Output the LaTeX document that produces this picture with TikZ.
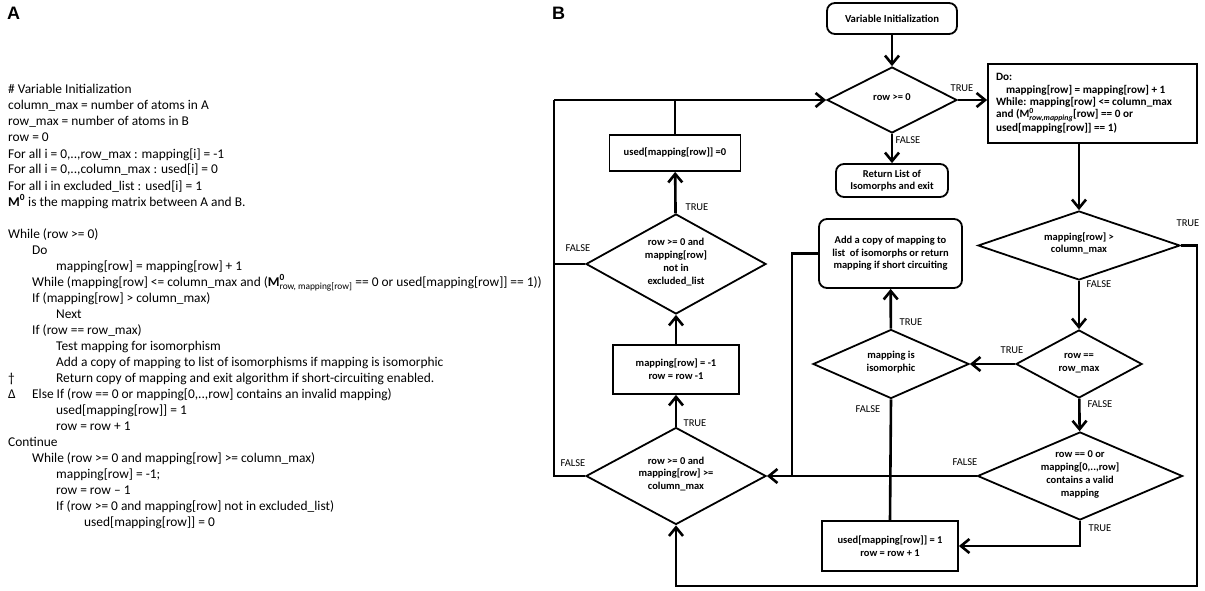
\documentclass[tikz,border=0pt]{standalone}
\usepackage{fontspec}
\usepackage{amsmath}
\setmainfont{Carlito}
\newfontfamily\panelfont{Liberation Sans}
\usetikzlibrary{shapes.geometric,arrows.meta}
\newcommand{\dtxt}[1]{\raisebox{-0.22em}{\smash{\begin{tabular}{@{}c@{}}#1\end{tabular}}}}
\begin{document}
\begin{tikzpicture}[x=1pt,y=-1pt,
  code/.style={anchor=base west, inner sep=0pt, font=\fontsize{13.4}{16}\selectfont},
  panel/.style={anchor=base west, inner sep=0pt, font=\panelfont\fontsize{18}{18}\selectfont\bfseries},
  fc/.style={draw, line width=1.8pt, inner sep=0pt, align=center, font=\fontsize{10.5}{12.7}\selectfont\bfseries},
  pbox/.style={fc, rectangle},
  rbox/.style={fc, rectangle, rounded corners=8pt},
  dia/.style={draw, line width=1.8pt, inner sep=0pt, diamond, shape aspect=2.5, font=\fontsize{10.5}{12.7}\selectfont\bfseries},
  lbl/.style={inner sep=0pt, font=\fontsize{10.5}{11}\selectfont},
  conn/.style={line width=2.6pt},
  arr/.style={conn, -{Straight Barb[length=8.5pt,width=14pt]}}
]
\useasboundingbox (0,0) rectangle (1205,591);

% ---------- Panel A ----------
\node[panel] (pa) at (7,20) {A};
\node[code] (l1) at (8,94) {\# Variable Initialization};
\node[code] (l2) at (8,110) {column\_max = number of atoms in A};
\node[code] (l3) at (8,126) {row\_max = number of atoms in B};
\node[code] (l4) at (8,142) {row = 0};
\node[code] (l5) at (8,158) {For all i = 0,..,row\_max : mapping[i] = -1};
\node[code] (l6) at (8,174) {For all i = 0,..,column\_max : used[i] = 0};
\node[code] (l7) at (8,190) {For all i in excluded\_list : used[i] = 1};
\node[code] (l8) at (8,206) {\textbf{M}$^{\textbf{0}}$ is the mapping matrix between A and B.};
\node[code] (l9) at (8,238) {While (row >= 0)};
\node[code] (l10) at (32,254) {Do};
\node[code] (l11) at (56,270) {mapping[row] = mapping[row] + 1};
\node[code] (l12) at (32,286) {While (mapping[row] <= column\_max and (\textbf{M}$^{\textbf{0}}_{\text{row, mapping[row]}}$ == 0 or used[mapping[row]] == 1))};
\node[code] (l13) at (32,302) {If (mapping[row] > column\_max)};
\node[code] (l14) at (56,318) {Next};
\node[code] (l15) at (32,334) {If (row == row\_max)};
\node[code] (l16) at (56,350) {Test mapping for isomorphism};
\node[code] (l17) at (56,366) {Add a copy of mapping to list of isomorphisms if mapping is isomorphic};
\node[code] (l18d) at (8,382) {†};
\node[code] (l18) at (56,382) {Return copy of mapping and exit algorithm if short-circuiting enabled.};
\node[code] (l19d) at (8,398) {Δ};
\node[code] (l19) at (32,398) {Else If (row == 0 or mapping[0,..,row] contains an invalid mapping)};
\node[code] (l20) at (56,414) {used[mapping[row]] = 1};
\node[code] (l21) at (56,430) {row = row + 1};
\node[code] (l22) at (8,446) {Continue};
\node[code] (l23) at (32,462) {While (row >= 0 and mapping[row] >= column\_max)};
\node[code] (l24) at (56,478) {mapping[row] = -1;};
\node[code] (l25) at (56,494) {row = row – 1};
\node[code] (l26) at (56,510) {If (row >= 0 and mapping[row] not in excluded\_list)};
\node[code] (l27) at (84,526) {used[mapping[row]] = 0};

% ---------- Panel B ----------
\node[panel] (pb) at (552,20) {B};

\node[rbox, minimum width=130pt, minimum height=31pt, font=\fontsize{10.7}{12.7}\selectfont\bfseries] (init) at (892,18.5) {Variable Initialization};
\node[dia, minimum width=130pt, minimum height=66pt] (d0) at (892,100) {\dtxt{row >= 0}};
\node[rbox, minimum width=112pt, minimum height=33pt] (ret) at (892,180.5) {Return List of\\Isomorphs and exit};
\node[pbox, minimum width=209pt, minimum height=79pt, align=left, font=\fontsize{11.2}{12.3}\selectfont\bfseries] (dobox) at (1092.5,103.5)
  {\makebox[193pt][l]{Do:}\\\hspace*{10pt}mapping[row] = mapping[row] + 1\\While: mapping[row] <= column\_max\\and (M$^{\textbf{0}}_{\textit{row,mapping}}$[row] == 0 or\\used[mapping[row]] == 1)};
\node[dia, minimum width=202pt, minimum height=69pt] (d1) at (1079,245.5) {\dtxt{mapping[row] >\\column\_max}};
\node[dia, minimum width=126pt, minimum height=68pt] (d2) at (1079,364) {\dtxt{row ==\\row\_max}};
\node[dia, minimum width=205pt, minimum height=88pt] (d3) at (1080,476) {\dtxt{row == 0 or\\mapping[0,..,row]\\contains a valid\\mapping}};
\node[dia, minimum width=156pt, minimum height=69pt] (iso) at (891,364) {\dtxt{mapping is\\isomorphic}};
\node[rbox, minimum width=143pt, minimum height=69pt] (add) at (890.5,253.5) {Add a copy of mapping to\\list \ of isomorphs or return\\mapping if short circuiting};
\node[pbox, minimum width=136pt, minimum height=50pt] (used1) at (890,546) {used[mapping[row]] = 1\\row = row + 1};
\node[dia, minimum width=180pt, minimum height=97pt] (dl) at (676,476) {\dtxt{row >= 0 and\\mapping[row] >=\\column\_max}};
\node[pbox, minimum width=126pt, minimum height=49pt] (mbox) at (676,369.5) {mapping[row] = -1\\row = row -1};
\node[dia, minimum width=180pt, minimum height=100pt] (du) at (676,264) {\dtxt{row >= 0 and\\mapping[row]\\not in\\excluded\_list}};
\node[pbox, minimum width=131pt, minimum height=36pt] (used0) at (675,153) {used[mapping[row]] =0};

\coordinate (tl) at (554,100);
\coordinate (br) at (1197,586);
\coordinate (j1) at (792,476);

% connectors
\draw[arr] (init) -- (d0);
\draw[arr] (d0.east) -- (dobox.west |- d0.east);
\draw[arr] (d0) -- (ret);
\draw[arr] (d1.north |- dobox.south) -- (d1.north);
\draw[arr] (d1) -- (d2);
\draw[arr] (d1.east) -| (br) -| (dl.south);
\draw[arr] (d2.west) -- (iso.east);
\draw[arr] (d2) -- (d3);
\draw[arr] (d3.west) -- (dl.east);
\draw[arr] (d3.south) |- (used1.east);
\draw[arr] (iso) -- (add);
\draw[conn] (iso.south) -- (used1.north);
\draw[conn] (add.west) -| (j1);
\draw[arr] (dl) -- (mbox);
\draw[arr] (mbox) -- (du);
\draw[arr] (du) -- (used0);
\draw[conn] (used0.north) -- (used0.north |- d0.west);
\draw[arr] (tl) -- (d0.west);
\draw[conn] (du.west) -| (tl);
\draw[conn] (dl.west) -| (tl);

% labels
\node[lbl] (t0) at (962,88) {TRUE};
\node[lbl] (f0) at (908,140) {FALSE};
\node[lbl] (t1) at (1188,223) {TRUE};
\node[lbl] (f1) at (1099,284) {FALSE};
\node[lbl] (t2) at (1012,350) {TRUE};
\node[lbl] (f2) at (1100,404) {FALSE};
\node[lbl] (f3) at (965,462) {FALSE};
\node[lbl] (t3) at (1100,528) {TRUE};
\node[lbl] (ti) at (911,322) {TRUE};
\node[lbl] (fi) at (868,409) {FALSE};
\node[lbl] (tdl) at (695,423) {TRUE};
\node[lbl] (fdl) at (573,463) {FALSE};
\node[lbl] (tdu) at (697,207) {TRUE};
\node[lbl] (fdu) at (578,248) {FALSE};
\end{tikzpicture}
\end{document}
